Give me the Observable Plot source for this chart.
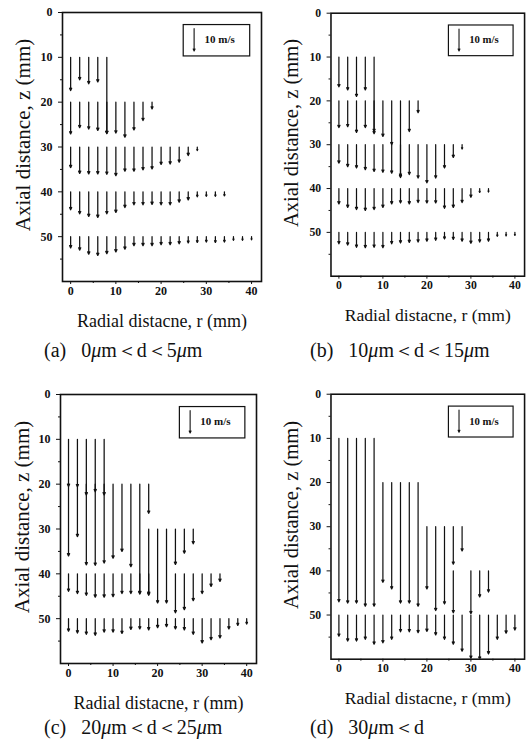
<!DOCTYPE html>
<html>
<head>
<meta charset="utf-8">
<script src="https://cdn.jsdelivr.net/npm/d3@7"></script>
<script src="https://cdn.jsdelivr.net/npm/@observablehq/plot@0.6"></script>
<style>
  html, body { margin: 0; padding: 0; background: #fff; overflow: hidden; }
  #fig { position: relative; width: 528px; height: 749px; overflow: hidden; }
  .panel { position: absolute; }
  .panel svg { display: block; overflow: visible; }
  .cap {
    position: absolute; white-space: nowrap; line-height: 22px;
    font-family: "Liberation Serif", "Times New Roman", serif; font-size: 20px; color: #111;
  }
  .cap i { font-style: italic; }
</style>
</head>
<body>
<div id="fig"></div>
<script>
// Measurement grid: radial stations (mm) and starting axial stations (mm)
const radii = [0, 2, 4, 6, 8, 10, 12, 14, 16, 18, 20, 22, 24, 26, 28, 30, 32, 34, 36, 38, 40];
const rowZ = [10, 20, 30, 40, 50];

// Axial droplet velocity (m/s) per row, indexed by radial station; null = no vector
const velA = [
  [14.8, 10, 11.8, 11, 34],
  [14.2, 11.4, 12, 12.6, 14, 13.8, 15.6, 12.4, 8.2, 3],
  [9.2, 11.8, 12, 12, 12.2, 12.8, 10.8, 10.8, 10.2, 9.8, 7.8, 7.6, 6.8, 3.8, 1.6],
  [8, 9.8, 11, 11.4, 9.8, 9.2, 7, 5.8, 5.8, 5.6, 5.8, 5.8, 4.6, 3.6, 2.2, 2, 2, 1.8],
  [5, 6, 7.8, 8.4, 7.6, 6.8, 5.6, 4, 4, 4, 3.6, 3.6, 3.2, 2.8, 2.6, 2.4, 2.6, 2.4, 1.6, 1.6, 1.4]
];
const velB = [
  [13.6, 15, 18, 15, 34],
  [12.2, 11.8, 14.4, 12.2, 15, 16.2, 20, 35, 14, 5.4],
  [8.4, 10, 10.6, 11.4, 12.2, 12.6, 13, 14.4, 13.6, 15.2, 17.4, 15.2, 10.6, 5.8, 2],
  [7, 8.6, 9.6, 10, 9.6, 8.6, 7, 6.6, 7, 6.4, 6.6, 6.6, 9, 8.6, 6.4, 4, 1.8, 1.6],
  [5.2, 5.8, 6.8, 7, 6.8, 7, 5.2, 4.8, 4.6, 4.4, 4, 3.6, 3, 3.2, 4, 5, 4.4, 4, 1.8, 1.6, 1.4]
];
const velC = [
  [21, 21.2, 24.8, 23.4, 24.8],
  [32, 23.4, 36, 36.2, 35.2, 33, 30, 36.8, 49, 13],
  [null, null, null, null, null, null, null, null, null, 29.2, 33, 33, 15.8, 10.8, 6.6],
  [7.8, 8.8, 9.6, 10.4, 10.4, 10.2, 8.8, 8.8, 8.8, 9.6, null, null, 17.4, 16, 12, 8.8, 5.6, 3.4],
  [5.6, 6.4, 7, 7.4, 6, 6, 6.6, 4.8, 4.6, 5, 4, 3.6, 4.6, 5, 7, 10.8, 9.4, 8.6, 4.6, 3, 2.4]
];
const velD = [
  [74, 74.6, 74.6, 76, 76],
  [null, null, null, null, null, 45.2, 48.2, 54.6, 54.6, 56],
  [null, null, null, null, null, null, null, null, null, null, 28.2, 38, 35, 17, 11],
  [null, null, null, null, null, null, null, null, null, null, null, null, null, 19, null, 19.4, 11.8, 9.6],
  [9.6, 11.8, 11.8, 11, 13.2, 12.6, 11, 7.6, 7.6, 8, 7.4, 9, 11, 13.2, 16.4, 19.6, 20, 17.6, 11, 8.2, 6.8]
];

// Size classes shown in each panel
const captions = [
  "(a)&ensp; 0<i>μ</i>m＜d＜5<i>μ</i>m",
  "(b)&ensp; 10<i>μ</i>m＜d＜15<i>μ</i>m",
  "(c)&ensp; 20<i>μ</i>m＜d＜25<i>μ</i>m",
  "(d)&ensp; 30<i>μ</i>m＜d"
];

const xTicks = [0, 10, 20, 30, 40];
const xMinor = [5, 15, 25, 35];
const yTicks = [0, 10, 20, 30, 40, 50];
const yMinor = [5, 15, 25, 35, 45, 55];

// Reference vector and vector scale: 10 m/s is drawn as 5 mm of axial distance
const legendSpeed = 10;
const mmPerMs = 0.5;

function vectors(rows) {
  const out = [];
  rows.forEach((vals, i) => vals.forEach((v, j) => {
    if (v != null) out.push({r: radii[j], z: rowZ[i], v});
  }));
  return out;
}

function panel(rows, layout) {
  const ink = "#111";
  const legendBox = {x1: 25, x2: 39.7, y1: 2.8, y2: 9.8};
  const legendArrowR = 27.3, legendTopZ = 3.6;
  return Plot.plot({
    width: layout.width,
    height: layout.height,
    marginLeft: layout.ml,
    marginRight: layout.mr,
    marginTop: layout.mt,
    marginBottom: layout.mb,
    style: {fontFamily: "'Liberation Serif', 'Times New Roman', serif", fontSize: "12px", background: "transparent", color: ink},
    x: {domain: [-1.8, 42.2]},
    y: {domain: [0, 60], reverse: true},
    marks: [
      Plot.arrow(vectors(rows), {
        x: "r", y1: "z", y2: d => d.z + d.v * mmPerMs,
        stroke: ink, strokeWidth: 1.25, headLength: 3, headAngle: 50, clip: true
      }),
      Plot.rect([legendBox], {x1: "x1", x2: "x2", y1: "y1", y2: "y2", fill: "white", stroke: ink, strokeWidth: 1.2}),
      Plot.arrow([legendSpeed], {
        x: () => legendArrowR, y1: () => legendTopZ, y2: d => legendTopZ + d * mmPerMs,
        stroke: ink, strokeWidth: 1.1, headLength: 3, headAngle: 50
      }),
      Plot.text([legendSpeed], {
        x: () => legendArrowR + 2.3, y: () => legendTopZ + legendSpeed * mmPerMs / 2,
        text: d => `${d} m/s`, textAnchor: "start", fontWeight: "bold", fontSize: 11, fill: ink
      }),
      Plot.frame({stroke: ink, strokeWidth: 1.6}),
      Plot.axisX({ticks: xTicks, tickSize: 3, tickPadding: 2, label: null, fontWeight: "bold", fontSize: 12}),
      Plot.axisX({ticks: xMinor, tickSize: 2, text: null, label: null}),
      Plot.axisY({ticks: yTicks, tickSize: 4, tickPadding: 6, label: null, fontWeight: "bold", fontSize: 12}),
      Plot.axisY({ticks: yMinor, tickSize: 2, text: null, label: null}),
      Plot.text(["Axial distance, z (mm)"], {
        frameAnchor: "left", rotate: -90, textAnchor: "middle", lineAnchor: "middle",
        dx: layout.ylabelDx, dy: -12, fontSize: 21, fill: ink
      }),
      Plot.text(["Radial distacne, r (mm)"], {
        frameAnchor: "bottom", textAnchor: "middle", lineAnchor: "middle",
        dy: 40, fontSize: 18, fill: ink
      })
    ]
  });
}

const fig = document.getElementById("fig");
const layouts = [
  {rows: velA, left: 0,   top: 0,   width: 264, height: 335, ml: 62, mr: 3, mt: 12, mb: 54, ylabelDx: -39, capLeft: 44,  capTop: 339},
  {rows: velB, left: 264, top: 0,   width: 270, height: 335, ml: 68, mr: 4, mt: 13, mb: 53, ylabelDx: -40, capLeft: 310, capTop: 339},
  {rows: velC, left: 0,   top: 382, width: 264, height: 335, ml: 60, mr: 8, mt: 12, mb: 54, ylabelDx: -38, capLeft: 44,  capTop: 716},
  {rows: velD, left: 264, top: 382, width: 270, height: 335, ml: 68, mr: 4, mt: 12, mb: 52, ylabelDx: -40, capLeft: 310, capTop: 716}
];

layouts.forEach((l, i) => {
  const holder = document.createElement("div");
  holder.className = "panel";
  holder.style.left = l.left + "px";
  holder.style.top = l.top + "px";
  holder.appendChild(panel(l.rows, l));
  fig.appendChild(holder);

  const cap = document.createElement("div");
  cap.className = "cap";
  cap.style.left = l.capLeft + "px";
  cap.style.top = l.capTop + "px";
  cap.innerHTML = captions[i];
  fig.appendChild(cap);
});
</script>
</body>
</html>
